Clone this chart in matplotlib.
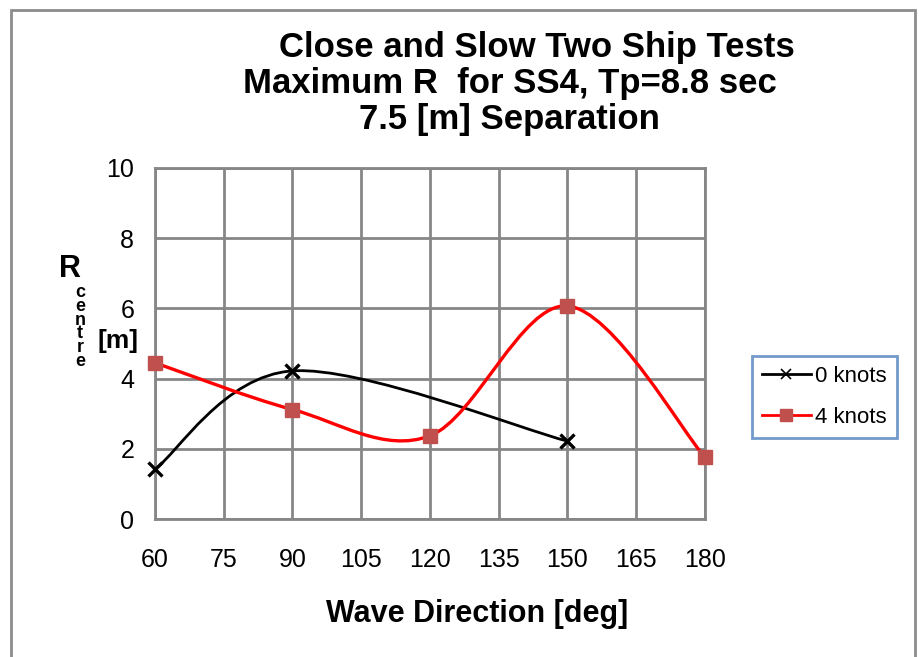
#!/usr/bin/env python3
"""Close and slow two ship tests - max R vs wave direction"""
import numpy as np
import matplotlib.pyplot as plt
from matplotlib.path import Path
from matplotlib.patches import PathPatch, Rectangle
from matplotlib.lines import Line2D

plt.rcParams['font.family'] = ['Liberation Sans', 'DejaVu Sans']

# Data
dir_0kn = [60, 90, 150]
r_0kn = [1.42, 4.22, 2.22]
dir_4kn = [60, 90, 120, 150, 180]
r_4kn = [4.45, 3.12, 2.37, 6.07, 1.77]

x_ticks = [60, 75, 90, 105, 120, 135, 150, 165, 180]
y_ticks = [0, 2, 4, 6, 8, 10]

GRID = '#868686'
RED_LINE = '#FF0000'
RED_MARK = '#C0504D'


def smooth_path(xs, ys):
    # Excel-style smoothed line: cubic Bezier segments through the points
    pts = np.column_stack([xs, ys]).astype(float)
    n = len(pts)
    verts = [pts[0]]
    codes = [Path.MOVETO]
    for i in range(n - 1):
        p0 = pts[i - 1] if i > 0 else pts[i]
        p1 = pts[i]
        p2 = pts[i + 1]
        p3 = pts[i + 2] if i + 2 < n else pts[i + 1]
        c1 = p1 + (p2 - p0) / 6.0
        c2 = p2 - (p3 - p1) / 6.0
        verts += [c1, c2, p2]
        codes += [Path.CURVE4] * 3
    return Path(verts, codes)


fig = plt.figure(figsize=(9.2, 6.57), dpi=100)
ax = fig.add_axes([0.1685, 0.21, 0.5975, 0.5343])

# outer chart border
fig.patches.append(Rectangle((11 / 920, -0.01), 904 / 920, 1 - 10 / 657 + 0.01,
                             transform=fig.transFigure, fill=False,
                             edgecolor='#8C8C8C', linewidth=2))

ax.add_patch(PathPatch(smooth_path(dir_0kn, r_0kn), fill=False,
                       edgecolor='black', linewidth=2, zorder=3))
ax.add_patch(PathPatch(smooth_path(dir_4kn, r_4kn), fill=False,
                       edgecolor=RED_LINE, linewidth=2.4, zorder=3))
ax.plot(dir_0kn, r_0kn, linestyle='none', marker='x', color='black',
        markersize=10, markeredgewidth=2.4, zorder=4, clip_on=False)
ax.plot(dir_4kn, r_4kn, linestyle='none', marker='s', color=RED_MARK,
        markersize=9.5, zorder=4, clip_on=False)

ax.set_xlim(60, 180)
ax.set_ylim(0, 10)
ax.set_xticks(x_ticks)
ax.set_yticks(y_ticks)
ax.tick_params(length=0, labelsize=18)
ax.tick_params(axis='x', pad=21)
ax.tick_params(axis='y', pad=15)
ax.grid(True, color=GRID, linewidth=2)
ax.set_axisbelow(True)
for s in ax.spines.values():
    s.set_color(GRID)
    s.set_linewidth(2)

# x label
fig.text(477 / 920, 1 - 614 / 657, 'Wave Direction [deg]', fontsize=22,
         fontweight='bold', ha='center', va='center')

# y label: R with stacked "centre" subscript and [m]
fig.text(70 / 920, 1 - 269 / 657, 'R', fontsize=22, fontweight='bold',
         ha='center', va='center')
fig.text(80 / 920, 1 - 327 / 657, '\n'.join('centre'), fontsize=13,
         fontweight='bold', ha='center', va='center', multialignment='center',
         linespacing=0.76)
fig.text(118 / 920, 1 - 341 / 657, '[m]', fontsize=19, fontweight='bold',
         ha='center', va='center')

# title
fig.text(537 / 920, 1 - 47 / 657, 'Close and Slow Two Ship Tests',
         fontsize=25, fontweight='bold', ha='center', va='center')
fig.text(510 / 920, 1 - 84 / 657, 'Maximum R  for SS4, Tp=8.8 sec',
         fontsize=25, fontweight='bold', ha='center', va='center')
fig.text(509 / 920, 1 - 120 / 657, '7.5 [m] Separation',
         fontsize=25, fontweight='bold', ha='center', va='center')

# legend
handles = [Line2D([], [], color='black', linewidth=2, marker='x',
                  markersize=7, markeredgewidth=1.2),
           Line2D([], [], color=RED_LINE, linewidth=2, marker='s',
                  markersize=9, markerfacecolor=RED_MARK, markeredgecolor=RED_MARK)]
leg = fig.legend(handles, ['0 knots', '4 knots'], loc='center left',
                 bbox_to_anchor=(752 / 920, 1 - 397 / 657), fontsize=16,
                 frameon=True, fancybox=False, handlelength=2.2,
                 handletextpad=0.2, labelspacing=0.9, borderpad=0.45,
                 borderaxespad=0)
leg.get_frame().set_edgecolor('#4F81BD')
leg.get_frame().set_linewidth(2)

plt.savefig('out.png', dpi=100)
